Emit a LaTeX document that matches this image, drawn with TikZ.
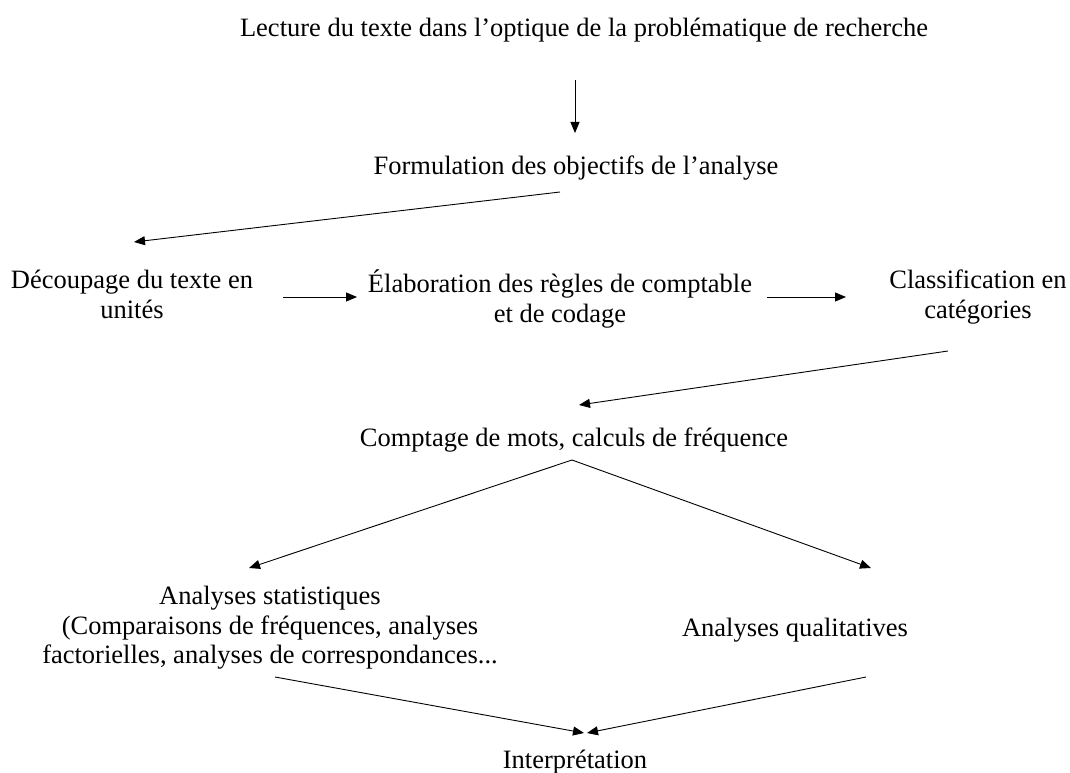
\documentclass[tikz,border=0pt]{standalone}
\usepackage{fontspec}
\setmainfont{Liberation Serif}
\usetikzlibrary{arrows.meta}
\begin{document}
\begin{tikzpicture}[x=1pt,y=-1pt,
  txt/.style={inner sep=0pt,align=center,font=\fontsize{26.5}{29.5}\selectfont},
  arr/.style={line width=0.9pt,-{Triangle[length=11pt,width=9pt]}}]
\useasboundingbox (0,0) rectangle (1070,773);
\node[txt,anchor=base] (lecture) at (584,37) {Lecture du texte dans l’optique de la problématique de recherche};
\node[txt,anchor=base] (formul) at (576,174) {Formulation des objectifs de l’analyse};
\node[txt,anchor=north] (decoup) at (132,270) {Découpage du texte en\\unités};
\node[txt,anchor=north] (elab) at (560,270) {Élaboration des règles de comptable\\et de codage};
\node[txt,anchor=north] (classif) at (978,270) {Classification en\\catégories};
\node[txt,anchor=base] (compt) at (574,446) {Comptage de mots, calculs de fréquence};
\node[txt,anchor=north] (stat) at (270,586) {Analyses statistiques\\(Comparaisons de fréquences, analyses\\factorielles, analyses de correspondances...};
\node[txt,anchor=base] (qual) at (795,636) {Analyses qualitatives};
\node[txt,anchor=base] (interp) at (575,768) {Interprétation};

\coordinate (a1) at (575,80);  \coordinate (a2) at (575,133);
\coordinate (b1) at (560,192); \coordinate (b2) at (134,242);
\coordinate (c1) at (283,297); \coordinate (c2) at (357,297);
\coordinate (d1) at (767,297); \coordinate (d2) at (846,297);
\coordinate (e1) at (948,351); \coordinate (e2) at (579,405);
\coordinate (f1) at (572,460); \coordinate (f2) at (249,568); \coordinate (f3) at (871,568);
\coordinate (g1) at (275,677); \coordinate (g2) at (584,733);
\coordinate (h1) at (866,677); \coordinate (h2) at (587,733);

\draw[arr] (a1) -- (a2);
\draw[arr] (b1) -- (b2);
\draw[arr] (c1) -- (c2);
\draw[arr] (d1) -- (d2);
\draw[arr] (e1) -- (e2);
\draw[arr] (f1) -- (f2);
\draw[arr] (f1) -- (f3);
\draw[arr] (g1) -- (g2);
\draw[arr] (h1) -- (h2);
\end{tikzpicture}
\end{document}
